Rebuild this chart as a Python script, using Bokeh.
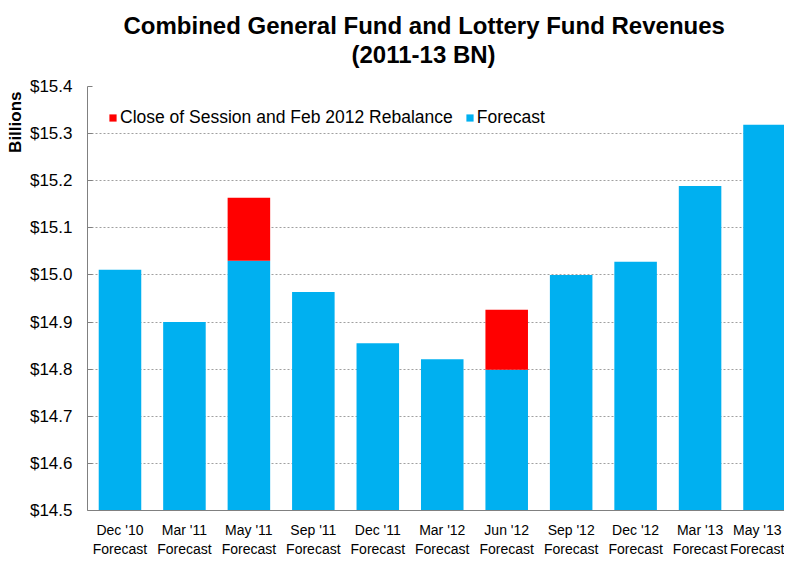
from bokeh.plotting import figure
from bokeh.models import (ColumnDataSource, Legend, LegendItem, PrintfTickFormatter,
                          Title, Range1d, FixedTicker)
from bokeh.embed import file_html
from bokeh.resources import INLINE

title_line1 = "Combined General Fund and Lottery Fund Revenues"
title_line2 = "(2011-13 BN)"
categories = ["Dec '10\nForecast", "Mar '11\nForecast", "May '11\nForecast", "Sep '11\nForecast",
              "Dec '11\nForecast", "Mar '12\nForecast", "Jun '12\nForecast", "Sep '12\nForecast",
              "Dec '12\nForecast", "Mar '13\nForecast", "May '13\nForecast"]
forecast = [15.011, 14.900, 15.030, 14.964, 14.855, 14.821, 14.799, 15.000, 15.028, 15.189, 15.319]
rebalance = [0.0, 0.0, 0.134, 0.0, 0.0, 0.0, 0.127, 0.0, 0.0, 0.0, 0.0]
y_ticks = [14.5, 14.6, 14.7, 14.8, 14.9, 15.0, 15.1, 15.2, 15.3, 15.4]

BLUE = "#00B0F0"
RED = "#FF0000"
FONT = "Liberation Sans"

# category slots on a numeric axis (slot centres at i + 0.5)
xpos = [i + 0.5 for i in range(len(categories))]
src = ColumnDataSource(dict(x=xpos, cat=categories, forecast=forecast, rebalance=rebalance))

p = figure(x_range=Range1d(-0.004, 10.81), y_range=(14.5, 15.4),
           width=784, height=559, output_backend="svg", toolbar_location=None,
           min_border_left=87, min_border_right=0, min_border_top=86, min_border_bottom=43)

r = p.vbar_stack(["forecast", "rebalance"], x="x", width=0.66, source=src,
                 color=[BLUE, RED], line_color=None)

# title: line 1 is the figure title (outermost), line 2 below it, then a small spacer
p.title.text = title_line1
p.title.text_font = FONT
p.title.text_font_size = "24px"
p.title.text_font_style = "bold"
p.title.text_color = "black"
p.title.align = "left"
p.title.offset = 36
p.title.standoff = 0

p.add_layout(Title(text=" ", text_font_size="12px", standoff=3), "above")
p.add_layout(Title(text=title_line2, align="left", offset=264, text_font=FONT,
                   text_font_size="24px", text_font_style="bold", text_color="black",
                   standoff=0), "above")

p.add_layout(Title(text="Billions", align="right", offset=5, standoff=4, text_font=FONT,
                   text_font_size="17px", text_font_style="bold", text_color="black"), "left")

p.yaxis.ticker = y_ticks
p.yaxis.formatter = PrintfTickFormatter(format="$%.1f")
p.yaxis.major_label_text_font = FONT
p.yaxis.major_label_text_font_size = "17px"
p.yaxis.major_label_text_color = "black"
p.yaxis.major_tick_in = 5
p.yaxis.major_tick_out = 0
p.yaxis.minor_tick_line_color = None
p.yaxis.major_label_standoff = 15
p.yaxis.axis_line_color = "#808080"
p.yaxis.major_tick_line_color = "#808080"

p.xaxis.ticker = FixedTicker(ticks=xpos)
p.xaxis.major_label_overrides = {x: c for x, c in zip(xpos, categories)}
p.xaxis.major_label_text_font = FONT
p.xaxis.major_label_text_font_size = "14px"
p.xaxis.major_label_text_color = "black"
p.xaxis.major_tick_line_color = None
p.xaxis.minor_tick_line_color = None
p.xaxis.axis_line_color = "#808080"
p.xaxis.major_label_standoff = 5

p.xgrid.grid_line_color = None
p.ygrid.grid_line_color = "#a0a0a0"
p.ygrid.grid_line_dash = "2 2"
p.outline_line_color = None
p.background_fill_color = "white"
p.border_fill_color = "white"

legend = Legend(items=[LegendItem(label="Close of Session and Feb 2012 Rebalance", renderers=[r[1]]),
                       LegendItem(label="Forecast", renderers=[r[0]])],
                orientation="horizontal", location=(21, 382),
                label_text_font=FONT, label_text_font_size="17.5px", label_text_color="black",
                glyph_width=9, glyph_height=9, label_standoff=3, spacing=12,
                padding=6, margin=0, border_line_color=None, background_fill_color="white",
                background_fill_alpha=1)
p.add_layout(legend, "center")

open("out.html", "w").write(file_html(p, INLINE))
